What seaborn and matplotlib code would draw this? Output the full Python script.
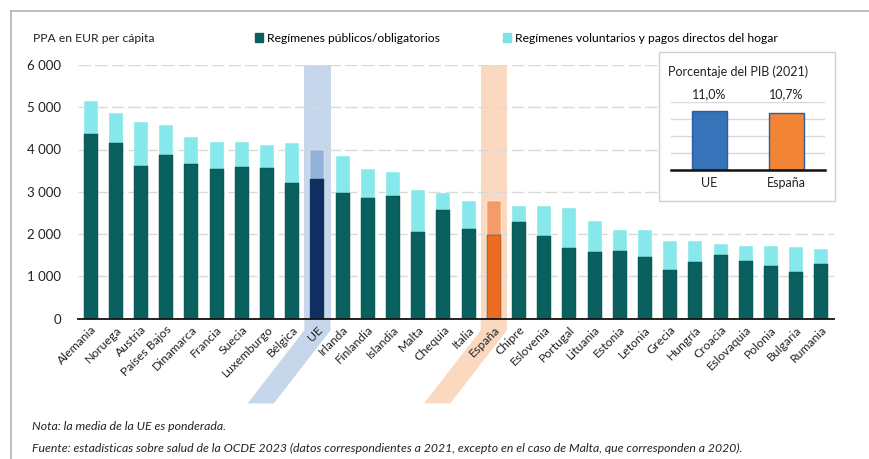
import numpy as np
import pandas as pd
import seaborn as sns
import matplotlib.pyplot as plt
from matplotlib.patches import Rectangle, Polygon
from matplotlib.lines import Line2D

paises = ["Alemania", "Noruega", "Austria", "Países Bajos", "Dinamarca", "Francia",
          "Suecia", "Luxemburgo", "Bélgica", "UE", "Irlanda", "Finlandia", "Islandia",
          "Malta", "Chequia", "Italia", "España", "Chipre", "Eslovenia", "Portugal",
          "Lituania", "Estonia", "Letonia", "Grecia", "Hungría", "Croacia",
          "Eslovaquia", "Polonia", "Bulgaria", "Rumania"]
total = [5145, 4865, 4645, 4585, 4300, 4180, 4180, 4115, 4155, 4000, 3855, 3550,
         3475, 3040, 2980, 2775, 2775, 2665, 2660, 2610, 2300, 2100, 2095, 1845,
         1845, 1775, 1720, 1710, 1690, 1640]
publico = [4375, 4155, 3620, 3880, 3655, 3540, 3585, 3570, 3200, 3290, 2975, 2845,
           2900, 2040, 2565, 2110, 1975, 2290, 1960, 1665, 1580, 1600, 1460, 1150,
           1330, 1500, 1370, 1245, 1090, 1285]

pib_labels = ["UE", "España"]
pib_values = [11.0, 10.7]

df = pd.DataFrame({"pais": paises, "total": total, "publico": publico})

FONT = "Lato"
plt.rcParams["font.family"] = [FONT, "DejaVu Sans"]
FS = 8.7

dark = "#0a5f5f"
light = "#86e8ea"
col_dark = [dark] * len(paises)
col_light = [light] * len(paises)
i_ue = paises.index("UE")
i_es = paises.index("España")
col_dark[i_ue] = "#0f2f63"
col_light[i_ue] = "#93b2da"
col_dark[i_es] = "#ee6b22"
col_light[i_es] = "#f49b68"

W, H = 870, 459
fig = plt.figure(figsize=(8.7, 4.59), dpi=100)
ax = fig.add_axes([78 / W, 1 - 318.5 / H, 756 / W, 253.5 / H])

# highlight bands for UE and España
for idx, c in [(i_ue, "#c6d6eb"), (i_es, "#fbd9c1")]:
    ax.axvspan(idx - 0.52, idx + 0.52, ymin=0, ymax=1, color=c, zorder=0, lw=0)
    sh = 2.25
    poly = Polygon([(idx - 0.52, 0), (idx + 0.52, 0), (idx + 0.52, -280),
                    (idx + 0.52 - sh, -2010), (idx - 0.52 - sh, -2010),
                    (idx - 0.52, -280)],
                   closed=True, color=c, lw=0, clip_on=False, zorder=0)
    ax.add_patch(poly)

for v in [1000, 2000, 3000, 4000, 5000, 6000]:
    ax.axhline(v, color="#d9d9d9", lw=1, ls=(0, (9, 3)), zorder=0.5)

sns.barplot(data=df, x="pais", y="total", hue="pais", palette=col_light,
            width=0.55, legend=False, ax=ax, zorder=2, saturation=1,
            edgecolor="white", linewidth=0.3)
sns.barplot(data=df, x="pais", y="publico", hue="pais", palette=col_dark,
            width=0.55, legend=False, ax=ax, zorder=3, saturation=1,
            edgecolor="#0a4a4a", linewidth=0.3)

ax.set_xlim(-0.5, len(paises) - 0.5)
ax.set_ylim(0, 6000)
ax.set_yticks([0, 1000, 2000, 3000, 4000, 5000, 6000])
ax.set_yticklabels(["0", "1 000", "2 000", "3 000", "4 000", "5 000", "6 000"],
                   fontsize=9.5, color="#222222")
ax.set_xticks(range(len(paises)))
ax.set_xticklabels(paises, rotation=45, ha="right", rotation_mode="anchor",
                   fontsize=8.8, color="#222222")
ax.tick_params(axis="both", length=0)
ax.tick_params(axis="y", pad=12)
ax.tick_params(axis="x", pad=4)
ax.set_xlabel("")
ax.set_ylabel("")
for s in ["top", "right", "left"]:
    ax.spines[s].set_visible(False)
ax.spines["bottom"].set_color("#111111")
ax.spines["bottom"].set_linewidth(1.3)
ax.spines["bottom"].set_zorder(5)
ax.patch.set_alpha(0)

# header texts and legend
fig.text(33 / W, 1 - 38 / H, "PPA en EUR per cápita", fontsize=FS,
         va="center", ha="left", color="#222222")
leg_handles = [Rectangle((0, 0), 1, 1, color=dark), Rectangle((0, 0), 1, 1, color="#7ee3e6")]
fig.legend(leg_handles, ["Regímenes públicos/obligatorios",
                         "Regímenes voluntarios y pagos directos del hogar"],
           loc="center left", bbox_to_anchor=(255 / W, 1 - 38 / H), ncol=2,
           frameon=False, fontsize=FS, handlelength=0.7, handleheight=0.7,
           handletextpad=0.3, columnspacing=5.2, borderaxespad=0, borderpad=0)

# figure frame (top and left)
fig.add_artist(Line2D([11 / W, 11 / W], [0, 1 - 11 / H], color="#b3b3b3", lw=1.2))
fig.add_artist(Line2D([11 / W, 1], [1 - 11 / H, 1 - 11 / H], color="#b3b3b3", lw=1.2))

# inset box
box = Rectangle((659 / W, 1 - 201 / H), 176 / W, 149 / H, transform=fig.transFigure,
                facecolor="white", edgecolor="#d0d0d0", lw=1, zorder=1)
fig.patches.append(box)
fig.text(668 / W, 1 - 72 / H, "Porcentaje del PIB (2021)", fontsize=9,
         va="center", ha="left", color="#222222", zorder=3)

ins = fig.add_axes([671 / W, 1 - 170 / H, 154 / W, 68 / H], zorder=2)
ymax = 12.68
for v in np.linspace(0, ymax, 5)[1:]:
    ins.axhline(v, color="#d9d9d9", lw=1, zorder=0)
sns.barplot(x=pib_labels, y=pib_values, hue=pib_labels,
            palette=["#3673b9", "#f28435"], width=0.46, legend=False, ax=ins,
            saturation=1, edgecolor=["#2a5e9e", "#d96f25"], linewidth=1, zorder=2)
ins.set_xlim(-0.5, 1.5)
ins.set_ylim(0, ymax)
ins.set_yticks([])
ins.set_xlabel("")
ins.set_ylabel("")
ins.tick_params(axis="x", length=0, labelsize=9, pad=5, labelcolor="#222222")
for s in ["top", "right", "left"]:
    ins.spines[s].set_visible(False)
ins.spines["bottom"].set_color("#111111")
ins.spines["bottom"].set_linewidth(1.8)
ins.patch.set_alpha(0)
for i, v in enumerate(pib_values):
    ins.text(i, ymax * 1.02, f"{v:.1f}%".replace(".", ","), ha="center", va="bottom",
             fontsize=9, color="#222222")

# notes
fig.text(32 / W, 1 - 427 / H, "Nota: la media de la UE es ponderada.", fontsize=8.8,
         style="italic", va="center", ha="left", color="#222222")
fig.text(32 / W, 1 - 448 / H,
         "Fuente: estadísticas sobre salud de la OCDE 2023 (datos correspondientes a 2021, "
         "excepto en el caso de Malta, que corresponden a 2020).", fontsize=8.8,
         style="italic", va="center", ha="left", color="#222222")

fig.savefig("out.png", dpi=100, facecolor="white")
